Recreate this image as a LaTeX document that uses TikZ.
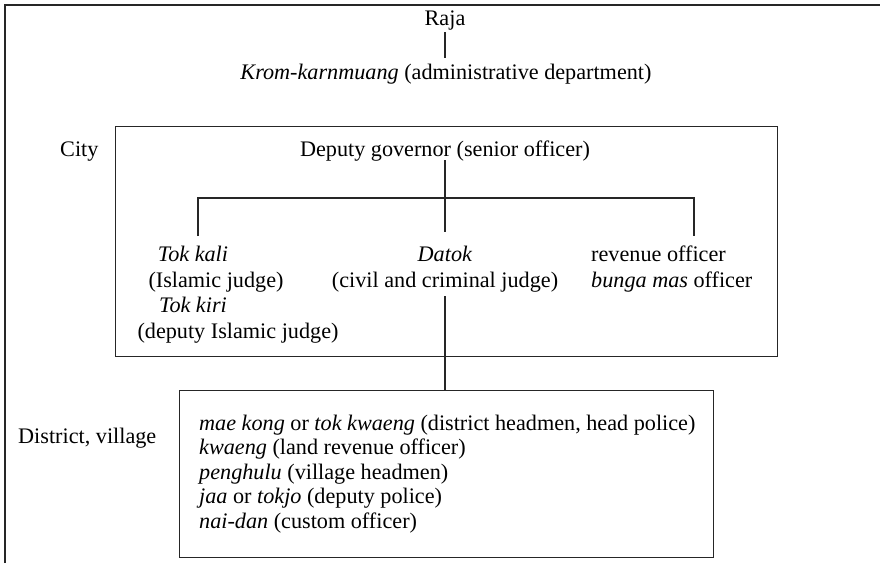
\documentclass[tikz,border=0pt]{standalone}
\usepackage{fontspec}
\setmainfont{Liberation Serif}
\begin{document}
\begin{tikzpicture}[x=1pt,y=-1pt,
  txt/.style={font=\fontsize{22.2}{26}\selectfont, inner sep=0pt, anchor=base},
  txtl/.style={txt, anchor=base west},
  conn/.style={line width=1.1pt, draw=black!85},
  frame/.style={line width=1.3pt, draw=black!85}]
\useasboundingbox (0,0) rectangle (880,563);
% outer frame (top and left only)
\draw[line width=1.8pt, draw=black!85] (5,563) -- (5,5) -- (880,5);
% top
\node[txt] (raja) at (445,25) {Raja};
\node[txt] (krom) at (446,79) {\textit{Krom-karnmuang} (administrative department)};
\draw[conn] (445,32) -- (445,58);
% city box
\node[frame, draw, minimum width=662, minimum height=230, anchor=north west, inner sep=0pt] (city) at (115,126) {};
\node[txtl] (citylab) at (60,156) {City};
\node[txt] (dep) at (445,156) {Deputy governor (senior officer)};
\node[txt] (tokkali) at (193,261) {\textit{Tok kali}};
\node[txt] (isj) at (216,287) {(Islamic judge)};
\node[txt] (tokkiri) at (193,312) {\textit{Tok kiri}};
\node[txt] (dij) at (238,338) {(deputy Islamic judge)};
\node[txt] (datok) at (445,261) {\textit{Datok}};
\node[txt] (ccj) at (445,287) {(civil and criminal judge)};
\node[txtl] (rev) at (591,261) {revenue officer};
\node[txtl] (bunga) at (591,287) {\textit{bunga mas} officer};
% tree connectors
\coordinate (bl) at (198,198);
\coordinate (br) at (694,198);
\coordinate (bm) at (445,198);
\draw[conn] (445,160) -- (bm) -- (445,232);
\draw[conn] (198,236) -- (bl) -- (br) -- (694,236);
% district box
\node[frame, draw, minimum width=534, minimum height=167, anchor=north west, inner sep=0pt] (dist) at (179,390) {};
\coordinate (dtop) at (445,390);
\draw[conn] (445,296) -- (dtop);
\node[txtl] (distlab) at (18,443) {District, village};
\node[txtl] (d1) at (199,430) {\textit{mae kong} or \textit{tok kwaeng} (district headmen, head police)};
\node[txtl] (d2) at (199,454.5) {\textit{kwaeng} (land revenue officer)};
\node[txtl] (d3) at (199,479) {\textit{penghulu} (village headmen)};
\node[txtl] (d4) at (199,503.5) {\textit{jaa} or \textit{tokjo} (deputy police)};
\node[txtl] (d5) at (199,528) {\textit{nai-dan} (custom officer)};
\end{tikzpicture}
\end{document}
